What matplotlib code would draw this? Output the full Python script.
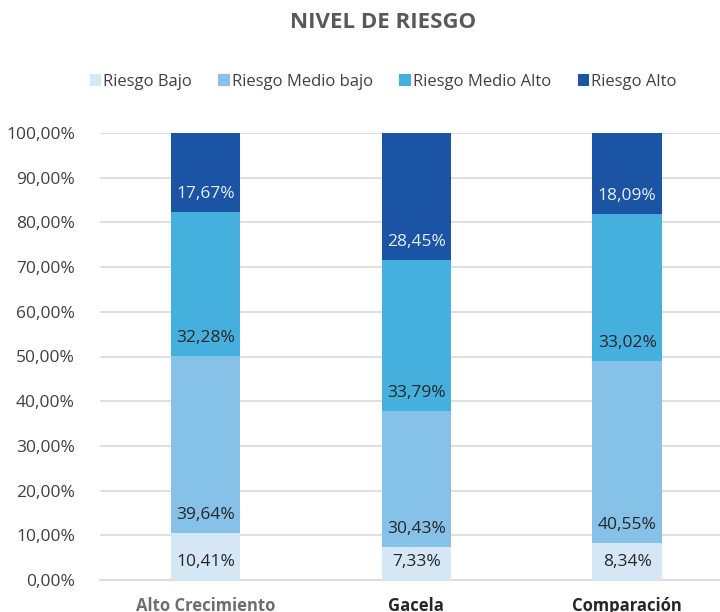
import matplotlib
matplotlib.use("Agg")
import matplotlib.pyplot as plt
from matplotlib.patches import Patch

categories = ["Alto Crecimiento", "Gacela", "Comparación"]
series_names = ["Riesgo Bajo", "Riesgo Medio bajo", "Riesgo Medio Alto", "Riesgo Alto"]
riesgo_bajo = [10.41, 7.33, 8.34]
riesgo_medio_bajo = [39.64, 30.43, 40.55]
riesgo_medio_alto = [32.28, 33.79, 33.02]
riesgo_alto = [17.67, 28.45, 18.09]
yticks = [0, 10, 20, 30, 40, 50, 60, 70, 80, 90, 100]

series = [riesgo_bajo, riesgo_medio_bajo, riesgo_medio_alto, riesgo_alto]
colors = ["#D5E7F5", "#86C1E8", "#45AFDE", "#1B53A5"]
label_colors = ["#262626", "#262626", "#262626", "#E8EEF8"]

plt.rcParams['font.family'] = ['Open Sans', 'DejaVu Sans']

fig = plt.figure(figsize=(7.2, 6.12), dpi=100)
ax = fig.add_axes([100/720, 1-580/612, 620/720, 447/612])

x = list(range(len(categories)))
bottoms = [0.0]*len(categories)
for vals, col, lc in zip(series, colors, label_colors):
    ax.bar(x, vals, bottom=bottoms, width=0.33, color=col, zorder=3)
    for xi, v, b in zip(x, vals, bottoms):
        ax.annotate(f"{v:.2f}%".replace(".", ","), xy=(xi, b), xytext=(0, 13),
                    textcoords="offset points", ha="center", va="center",
                    fontsize=12.5, color=lc, zorder=4)
    bottoms = [b+v for b, v in zip(bottoms, vals)]

ax.set_xlim(-0.5, 2.44)
ax.set_ylim(0, 100)
ax.set_yticks(yticks)
ax.set_yticklabels([f"{t:.2f}%".replace(".", ",") for t in yticks], fontsize=12.5, color="#404040")
ax.yaxis.grid(True, color="#D9D9D9", linewidth=1.2, zorder=0)
ax.tick_params(axis="y", length=0, pad=18)
ax.tick_params(axis="x", length=0, pad=12)
ax.set_xticks(x)
ax.set_xticklabels(categories, fontsize=12, fontweight="bold")
xl = ax.get_xticklabels()
xl[0].set_color("#6E6E6E")
xl[1].set_color("#262626")
xl[2].set_color("#262626")
for s in ["top", "right", "left"]:
    ax.spines[s].set_visible(False)
ax.spines["bottom"].set_color("#D9D9D9")
ax.spines["bottom"].set_linewidth(1.2)

fig.text(383/720, 1-22/612, "NIVEL DE RIESGO", ha="center", va="center",
         fontsize=16, fontweight="bold", color="#595959")

handles = [Patch(facecolor=c, edgecolor="none") for c in colors]
fig.legend(handles, series_names, loc="center", bbox_to_anchor=(383/720, 1-82/612),
           ncol=4, frameon=False, fontsize=12, handlelength=0.7, handleheight=0.7,
           handletextpad=0.1, columnspacing=1.6, labelcolor="#404040")

fig.savefig("out.png", dpi=100)
